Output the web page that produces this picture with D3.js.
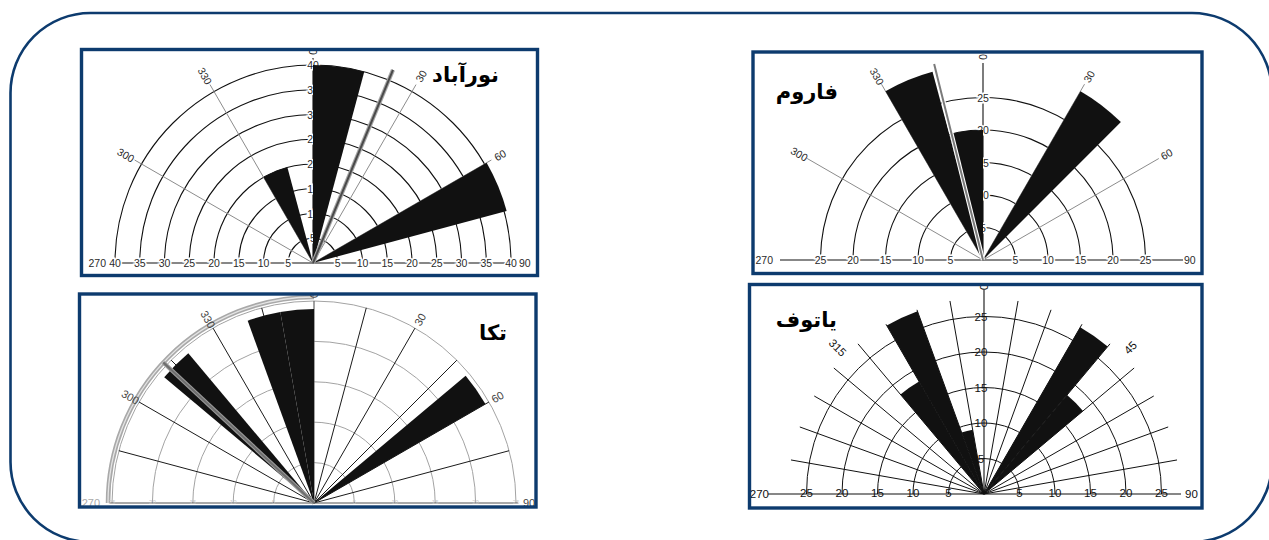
<!DOCTYPE html>
<html>
<head>
<meta charset="utf-8">
<script src="https://cdn.jsdelivr.net/npm/d3@7"></script>
<style>
  body { margin: 0; background: #fff; }
  svg { display: block; }
</style>
</head>
<body>
<svg id="fig" width="1269" height="540"></svg>
<script>
// ---- Rose diagram data (bin start / end bearings in degrees, frequency per bin) ----
const stationNames = ["نورآباد", "فاروم", "تکا", "یاتوف"];

const nurabadFrom  = [330, 0, 60];
const nurabadTo    = [345, 15, 75];
const nurabadCount = [20, 40, 40.5];
const nurabadMean  = 22.5;
const nurabadRings = [5, 10, 15, 20, 25, 30, 35, 40];
const nurabadSpokes = [300, 330, 30, 60];

const farumFrom  = [330, 345, 30];
const farumTo    = [345, 360, 45];
const farumCount = [30, 20, 30];
const farumMean  = 346;
const farumRings = [5, 10, 15, 20, 25];
const farumSpokes = [300, 330, 30, 60];

const takaFrom  = [310, 340, 350, 50];
const takaTo    = [320, 350, 360, 60];
const takaCount = [24.2, 24, 24, 24.5];
const takaMean  = 313;
const takaRings = [5, 10, 15, 20, 25];
const takaSpokes = [285, 300, 315, 330, 345, 15, 30, 45, 60, 75];
const takaSpokeLabels = [300, 330, 30, 60];

const yatufFrom  = [320, 330, 340, 30, 40];
const yatufTo    = [330, 340, 350, 40, 50];
const yatufCount = [18.3, 27.4, 9.2, 27.1, 18.2];
const yatufRings = [5, 10, 15, 20, 25];
const yatufSpokes = [280, 290, 300, 310, 320, 330, 340, 350, 10, 20, 30, 40, 50, 60, 70, 80];
const yatufSpokeLabels = [315, 45];

// ---- Layout and styling of each panel ----
const NAVY = "#0d3b6e";
const NUM_FONT = "'Liberation Sans', Arial, sans-serif";
const TITLE_FONT = "'DejaVu Sans', sans-serif";

const panels = [
  { title: stationNames[0], titleX: 499, titleY: 82,
    box: [81.5, 49.5, 456, 226], cx: 313, cy: 263, outer: 198,
    rings: nurabadRings, ringColor: "#111", ringWidth: 1.1,
    spokes: nurabadSpokes, spokeLabels: nurabadSpokes, spokeColor: "#8c8c8c", spokeLen: 206, spokeLabelR: 216,
    axisW: 198, axisE: 198, axisN: 205, axisColor: "#111", northLabelR: 211,
    from: nurabadFrom, to: nurabadTo, count: nurabadCount,
    mean: nurabadMean, meanLen: 209, meanColor: "#4a4a4a", meanUnder: "#a8a8a8",
    tickFont: 10.5, tickColor: "#2a2a2a", tickHalo: true, vertTicks: true, vertDx: 0,
    westEnd: -207, eastStart: 206, compassColor: "#2a2a2a", compassFont: 10.5 },
  { title: stationNames[1], titleX: 838, titleY: 99,
    box: [753, 52, 449, 221.5], cx: 983, cy: 260, outer: 162.5,
    rings: farumRings, ringColor: "#111", ringWidth: 1.1,
    spokes: farumSpokes, spokeLabels: farumSpokes, spokeColor: "#8c8c8c", spokeLen: 203, spokeLabelR: 212,
    axisW: 203, axisE: 200, axisN: 197, axisColor: "#111", northLabelR: 203,
    from: farumFrom, to: farumTo, count: farumCount,
    mean: farumMean, meanLen: 202, meanColor: "#7a7a7a", meanUnder: "#ffffff",
    tickFont: 10.5, tickColor: "#2a2a2a", tickHalo: true, vertTicks: true, vertDx: 0,
    westEnd: -210, eastStart: 201, compassColor: "#2a2a2a", compassFont: 10.5 },
  { title: stationNames[2], titleX: 507, titleY: 340,
    box: [79.5, 294, 456.5, 213], cx: 314, cy: 503, outer: 202,
    rings: takaRings, ringColor: "#a3a3a3", ringWidth: 1,
    spokes: takaSpokes, spokeLabels: takaSpokeLabels, spokeColor: "#1a1a1a", spokeLen: 202, spokeLabelR: 212,
    axisW: 204, axisE: 204, axisN: 202, axisColor: "#555", northLabelR: 208,
    from: takaFrom, to: takaTo, count: takaCount,
    mean: takaMean, meanLen: 206, meanColor: "#6e6e6e", meanUnder: "#9a9a9a",
    tickFont: 6, tickColor: "#c4c4c4", tickHalo: false, vertTicks: false, vertDx: 0,
    westEnd: -214, eastStart: 209, compassColor: "#444", compassFont: 11,
    westColor: "#aaa", highlight: [270, 360] },
  { title: stationNames[3], titleX: 837, titleY: 327,
    box: [749.5, 284.5, 452.5, 223.5], cx: 984, cy: 494, outer: 177.5,
    rings: yatufRings, ringColor: "#111", ringWidth: 1,
    spokes: yatufSpokes, spokeLabels: yatufSpokeLabels, spokeColor: "#111", spokeLen: 196, spokeLabelR: 207,
    axisW: 216, axisE: 197, axisN: 204, axisColor: "#111", northLabelR: 207,
    from: yatufFrom, to: yatufTo, count: yatufCount,
    mean: null,
    tickFont: 11.5, tickColor: "#111", tickHalo: false, vertTicks: true, vertDx: -3,
    westEnd: -215, eastStart: 201, compassColor: "#111", compassFont: 11.5 }
];

const svg = d3.select("#fig");
const toRad = d => d * Math.PI / 180;
const polar = (r, deg) => [r * Math.sin(toRad(deg)), -r * Math.cos(toRad(deg))];

// outer rounded frame
svg.append("rect")
  .attr("x", 10.5).attr("y", 13).attr("width", 1261.5).attr("height", 529).attr("rx", 80)
  .attr("fill", "none").attr("stroke", NAVY).attr("stroke-width", 2.6);

function halfRing(R) {
  const p = d3.path();
  p.moveTo(-R, 0);
  p.arc(0, 0, R, Math.PI, 2 * Math.PI);
  return p.toString();
}

function drawRose(cfg) {
  const [bx, by, bw, bh] = cfg.box;
  const root = svg.append("g");
  root.append("rect").attr("x", bx).attr("y", by).attr("width", bw).attr("height", bh).attr("fill", "#fff");

  const clipId = "clip" + Math.round(bx) + "_" + Math.round(by);
  root.append("clipPath").attr("id", clipId)
    .append("rect").attr("x", bx).attr("y", by).attr("width", bw).attr("height", bh);

  const content = root.append("g").attr("clip-path", `url(#${clipId})`);
  const g = content.append("g").attr("transform", `translate(${cfg.cx},${cfg.cy})`);

  const maxV = cfg.rings[cfg.rings.length - 1];
  const r = d3.scaleLinear().domain([0, maxV]).range([0, cfg.outer]);

  // concentric half rings
  g.selectAll("path.ring").data(cfg.rings).join("path")
    .attr("class", "ring")
    .attr("d", v => halfRing(r(v)))
    .attr("fill", "none").attr("stroke", cfg.ringColor).attr("stroke-width", cfg.ringWidth);

  // radial spokes
  g.selectAll("line.spoke").data(cfg.spokes).join("line")
    .attr("class", "spoke")
    .attr("x1", 0).attr("y1", 0)
    .attr("x2", a => polar(cfg.spokeLen, a)[0])
    .attr("y2", a => polar(cfg.spokeLen, a)[1])
    .attr("stroke", cfg.spokeColor).attr("stroke-width", 1);

  // highlighted outer arc (circular range)
  if (cfg.highlight) {
    const hl = d3.arc().innerRadius(cfg.outer + 4).outerRadius(cfg.outer + 4)
      .startAngle(toRad(cfg.highlight[0])).endAngle(toRad(cfg.highlight[1]));
    g.append("path").attr("d", hl()).attr("fill", "none").attr("stroke", "#a9a9a9").attr("stroke-width", 4.5);
    g.append("path").attr("d", hl()).attr("fill", "none").attr("stroke", "#e4e4e4").attr("stroke-width", 1.3);
  }

  // E-W and N axes
  g.append("line").attr("x1", -cfg.axisW).attr("x2", cfg.axisE).attr("y1", 0).attr("y2", 0)
    .attr("stroke", cfg.axisColor).attr("stroke-width", 1.1);
  g.append("line").attr("x1", 0).attr("x2", 0).attr("y1", 0).attr("y2", -cfg.axisN)
    .attr("stroke", cfg.axisColor).attr("stroke-width", 1.1);

  const styleTick = sel => {
    sel.attr("font-family", NUM_FONT).attr("font-size", cfg.tickFont)
      .attr("fill", cfg.tickColor).attr("text-anchor", "middle").attr("dominant-baseline", "central");
    if (cfg.tickHalo) sel.attr("stroke", "#fff").attr("stroke-width", 3).attr("paint-order", "stroke");
    return sel;
  };

  // radius tick labels along the E-W axis
  const ticksEW = cfg.rings.flatMap(v => [{ v, s: -1 }, { v, s: 1 }]);
  g.selectAll("text.ew").data(ticksEW).join("text")
    .attr("class", "ew")
    .attr("x", d => d.s * r(d.v)).attr("y", cfg.tickHalo ? 0 : -1)
    .text(d => d.v)
    .call(styleTick);

  // radius tick labels along the N axis
  if (cfg.vertTicks) {
    g.selectAll("text.ns").data(cfg.rings).join("text")
      .attr("class", "ns")
      .attr("x", cfg.vertDx).attr("y", v => -r(v))
      .text(v => v)
      .call(styleTick);
  }

  // bearing labels at the ends of spokes, written along the spoke
  const bearing = cfg.spokeLabels.concat([0]);
  g.selectAll("text.brg").data(bearing).join("text")
    .attr("class", "brg")
    .attr("transform", a => {
      const R = a === 0 ? cfg.northLabelR : cfg.spokeLabelR;
      const [x, y] = polar(R, a);
      const rot = a === 0 ? 90 : (a > 180 ? a - 270 : a - 90);
      return `translate(${x},${y}) rotate(${rot})`;
    })
    .attr("font-family", NUM_FONT).attr("font-size", cfg.compassFont)
    .attr("fill", cfg.compassColor).attr("text-anchor", "middle").attr("dominant-baseline", "central")
    .text(a => a);

  // petals
  const arc = d3.arc().innerRadius(0);
  g.selectAll("path.petal").data(d3.range(cfg.from.length)).join("path")
    .attr("class", "petal")
    .attr("d", i => arc({
      outerRadius: r(cfg.count[i]),
      startAngle: toRad(cfg.from[i]),
      endAngle: toRad(cfg.to[i] <= cfg.from[i] ? cfg.to[i] + 360 : cfg.to[i])
    }))
    .attr("fill", "#111");

  // mean direction
  if (cfg.mean !== null) {
    const [mx, my] = polar(cfg.meanLen, cfg.mean);
    g.append("line").attr("x1", 0).attr("y1", 0).attr("x2", mx).attr("y2", my)
      .attr("stroke", cfg.meanUnder).attr("stroke-width", 4.2);
    g.append("line").attr("x1", 0).attr("y1", 0).attr("x2", mx).attr("y2", my)
      .attr("stroke", cfg.meanColor).attr("stroke-width", 2);
  }

  // 270 / 90 labels
  g.append("text").attr("x", cfg.westEnd).attr("y", 0)
    .attr("font-family", NUM_FONT).attr("font-size", cfg.compassFont)
    .attr("fill", cfg.westColor || cfg.compassColor)
    .attr("text-anchor", "end").attr("dominant-baseline", "central").text("270");
  g.append("text").attr("x", cfg.eastStart).attr("y", 0)
    .attr("font-family", NUM_FONT).attr("font-size", cfg.compassFont)
    .attr("fill", cfg.compassColor)
    .attr("text-anchor", "start").attr("dominant-baseline", "central").text("90");

  // station name
  root.append("text").attr("x", cfg.titleX).attr("y", cfg.titleY)
    .attr("font-family", TITLE_FONT).attr("font-weight", "bold").attr("font-size", 21)
    .attr("fill", "#000").attr("text-anchor", "end")
    .text(cfg.title);

  // panel border
  root.append("rect").attr("x", bx).attr("y", by).attr("width", bw).attr("height", bh)
    .attr("fill", "none").attr("stroke", NAVY).attr("stroke-width", 3.4);
}

panels.forEach(drawRose);
</script>
</body>
</html>
